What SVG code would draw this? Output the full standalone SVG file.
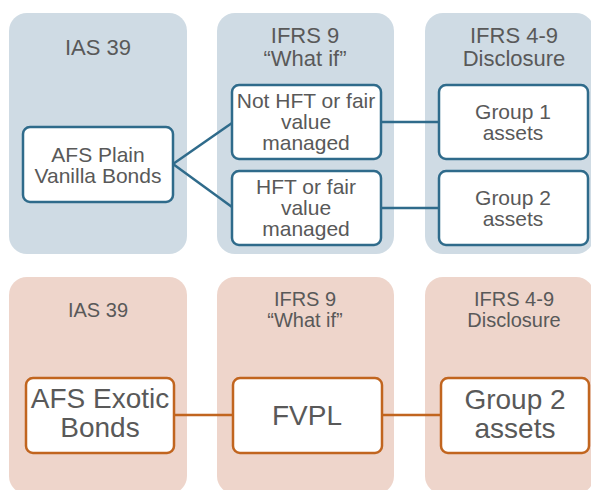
<svg xmlns="http://www.w3.org/2000/svg" width="591" height="490" viewBox="0 0 591 490">
<style>
.pt{fill:#cfdbe4}
.pb{fill:#eed5cb}
text{font-family:"Liberation Sans",Arial,sans-serif;fill:#595959;text-anchor:middle}
.t1{font-size:22px}
.t2{font-size:20px}
.n{font-size:21px}
.nb{font-size:28px}
.bt{fill:#fff;stroke:#2f6b8b;stroke-width:2.5}
.bb{fill:#fff;stroke:#c1651f;stroke-width:2.5}
.ct{stroke:#2f6b8b;stroke-width:2.5;fill:none}
.cb{stroke:#c1651f;stroke-width:2.5;fill:none}
</style>
<rect width="591" height="490" fill="#fff"/>
<g id="panels">
<rect class="pt" x="9" y="13" width="178" height="241" rx="18"/>
<rect class="pt" x="217" y="13" width="177" height="241" rx="18"/>
<rect class="pt" x="425" y="13" width="169" height="241" rx="18"/>
<rect class="pb" x="9" y="277" width="178" height="217" rx="18"/>
<rect class="pb" x="217" y="277" width="177" height="217" rx="18"/>
<rect class="pb" x="425" y="277" width="169" height="217" rx="18"/>
<text class="t1" x="98" y="55">IAS 39</text>
<text class="t1" x="305" y="43">IFRS 9</text>
<text class="t1" x="305" y="66">“What if”</text>
<text class="t1" x="514" y="43">IFRS 4-9</text>
<text class="t1" x="514" y="66">Disclosure</text>
<text class="t2" x="98" y="317">IAS 39</text>
<text class="t2" x="305" y="306">IFRS 9</text>
<text class="t2" x="305" y="327">“What if”</text>
<text class="t2" x="514" y="306">IFRS 4-9</text>
<text class="t2" x="514" y="327">Disclosure</text>
</g>
<g id="connectors">
<path class="ct" d="M173 164 L232 123"/>
<path class="ct" d="M173 164 L232 207"/>
<path class="ct" d="M381 122 H439"/>
<path class="ct" d="M381 208 H439"/>
<path class="cb" d="M174 415 H233"/>
<path class="cb" d="M382 415 H441"/>
</g>
<g id="afs-plain">
<rect class="bt" x="23" y="127" width="150" height="75" rx="7"/>
<text class="n" x="98" y="162">AFS Plain</text>
<text class="n" x="98" y="183">Vanilla Bonds</text>
</g>
<g id="not-hft">
<rect class="bt" x="232" y="85" width="149" height="74" rx="7"/>
<text class="n" x="306" y="108">Not HFT or fair</text>
<text class="n" x="306" y="129">value</text>
<text class="n" x="306" y="150">managed</text>
</g>
<g id="hft">
<rect class="bt" x="232" y="171" width="149" height="74" rx="7"/>
<text class="n" x="306" y="194">HFT or fair</text>
<text class="n" x="306" y="215">value</text>
<text class="n" x="306" y="236">managed</text>
</g>
<g id="group1">
<rect class="bt" x="439" y="85" width="149" height="74" rx="7"/>
<text class="n" x="513" y="119">Group 1</text>
<text class="n" x="513" y="140">assets</text>
</g>
<g id="group2-top">
<rect class="bt" x="439" y="171" width="149" height="74" rx="7"/>
<text class="n" x="513" y="205">Group 2</text>
<text class="n" x="513" y="226">assets</text>
</g>
<g id="afs-exotic">
<rect class="bb" x="26" y="378" width="148" height="75" rx="7"/>
<text class="nb" x="100" y="408">AFS Exotic</text>
<text class="nb" x="100" y="437">Bonds</text>
</g>
<g id="fvpl">
<rect class="bb" x="233" y="378" width="149" height="75" rx="7"/>
<text class="nb" x="307" y="425">FVPL</text>
</g>
<g id="group2-bottom">
<rect class="bb" x="441" y="378" width="148" height="75" rx="7"/>
<text class="nb" x="515" y="409">Group 2</text>
<text class="nb" x="515" y="438">assets</text>
</g>
</svg>
